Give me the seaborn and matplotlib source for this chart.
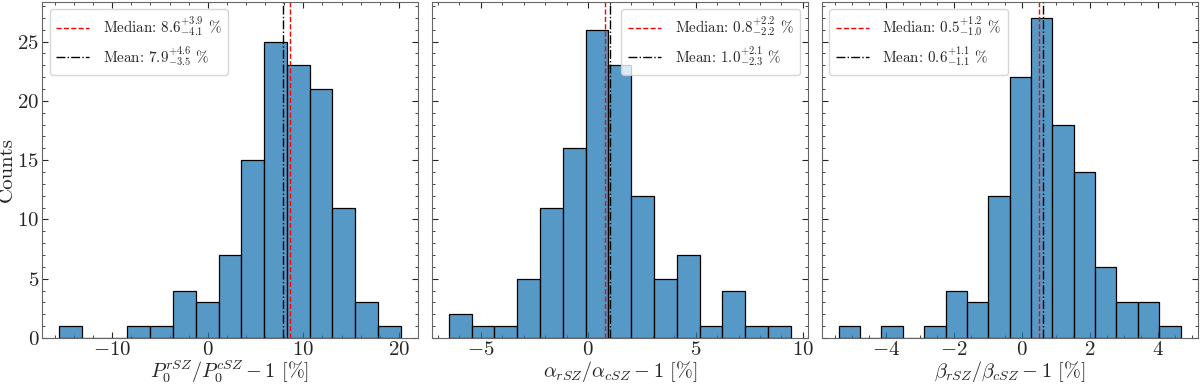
import matplotlib

matplotlib.use("Agg")
import matplotlib.pyplot as plt
import numpy as np
import pandas as pd
import seaborn as sns
from matplotlib.ticker import AutoMinorLocator

# bin counts, per panel
p0_counts = [1, 0, 0, 1, 1, 4, 3, 7, 15, 25, 23, 21, 11, 3, 1]
p0_range = (-15.57, 20.21)
alpha_counts = [2, 1, 1, 5, 11, 16, 26, 23, 12, 5, 7, 1, 4, 1, 1]
alpha_range = (-6.49, 9.43)
beta_counts = [1, 0, 1, 0, 1, 4, 3, 12, 22, 27, 18, 14, 6, 3, 3, 1]
beta_range = (-5.385, 4.654)

medians = [8.6, 0.8, 0.5]
median_errs = [("+3.9", "-4.1"), ("+2.2", "-2.2"), ("+1.2", "-1.0")]
means = [7.9, 1.0, 0.6]
mean_errs = [("+4.6", "-3.5"), ("+2.1", "-2.3"), ("+1.1", "-1.1")]

xlabels = [
    r"$P_0^{rSZ}/P_0^{cSZ} - 1$ [%]",
    r"$\alpha_{rSZ}/\alpha_{cSZ} - 1$ [%]",
    r"$\beta_{rSZ}/\beta_{cSZ} - 1$ [%]",
]
legend_locs = ["upper left", "upper right", "upper left"]

sns.set_style("ticks")
plt.rcParams.update({
    "font.family": "serif",
    "font.serif": ["cmr10", "DejaVu Serif"],
    "mathtext.fontset": "cm",
    "axes.formatter.use_mathtext": True,
    "axes.unicode_minus": True,
    "xtick.direction": "in",
    "ytick.direction": "in",
    "xtick.top": True,
    "ytick.right": True,
})

fig, axs = plt.subplots(1, 3, figsize=(12, 3.84), dpi=100, sharey=True)
fig.subplots_adjust(left=0.035, right=0.998, top=0.995, bottom=0.12, wspace=0.037)

panels = [
    (p0_counts, p0_range),
    (alpha_counts, alpha_range),
    (beta_counts, beta_range),
]
for i, (ax, (counts, (lo, hi))) in enumerate(zip(axs, panels)):
    edges = np.linspace(lo, hi, len(counts) + 1)
    df = pd.DataFrame({
        "center": 0.5 * (edges[:-1] + edges[1:]),
        "count": counts,
    })
    sns.histplot(
        data=df,
        x="center",
        weights="count",
        bins=list(edges),
        ax=ax,
        color="#1f77b4",
        edgecolor="black",
        linewidth=0.9,
        alpha=0.75,
    )
    up, dn = median_errs[i]
    ax.axvline(
        medians[i], color="red", ls="--", lw=1,
        label=rf"Median: ${medians[i]:.1f}^{{{up}}}_{{{dn}}}$ %",
    )
    up, dn = mean_errs[i]
    ax.axvline(
        means[i], color="black", ls="-.", lw=1,
        label=rf"Mean: ${means[i]:.1f}^{{{up}}}_{{{dn}}}$ %",
    )
    ax.set_xlabel(xlabels[i], fontsize=14.5, labelpad=0)
    ax.xaxis.set_minor_locator(AutoMinorLocator())
    ax.yaxis.set_minor_locator(AutoMinorLocator())
    ax.tick_params(which="both", direction="in", top=True, right=True,
                   labelsize=15, pad=2)
    ax.tick_params(which="major", length=4)
    ax.tick_params(which="minor", length=2)
    ax.legend(loc=legend_locs[i], fontsize=10.8, handlelength=2.2,
              handletextpad=0.9, borderpad=0.45, labelspacing=0.4)
    for sp in ax.spines.values():
        sp.set_color("#666666")

axs[0].set_ylabel("Counts", fontsize=15, labelpad=1)
axs[1].set_ylabel("")
axs[2].set_ylabel("")

fig.savefig("out.png", dpi=100)
